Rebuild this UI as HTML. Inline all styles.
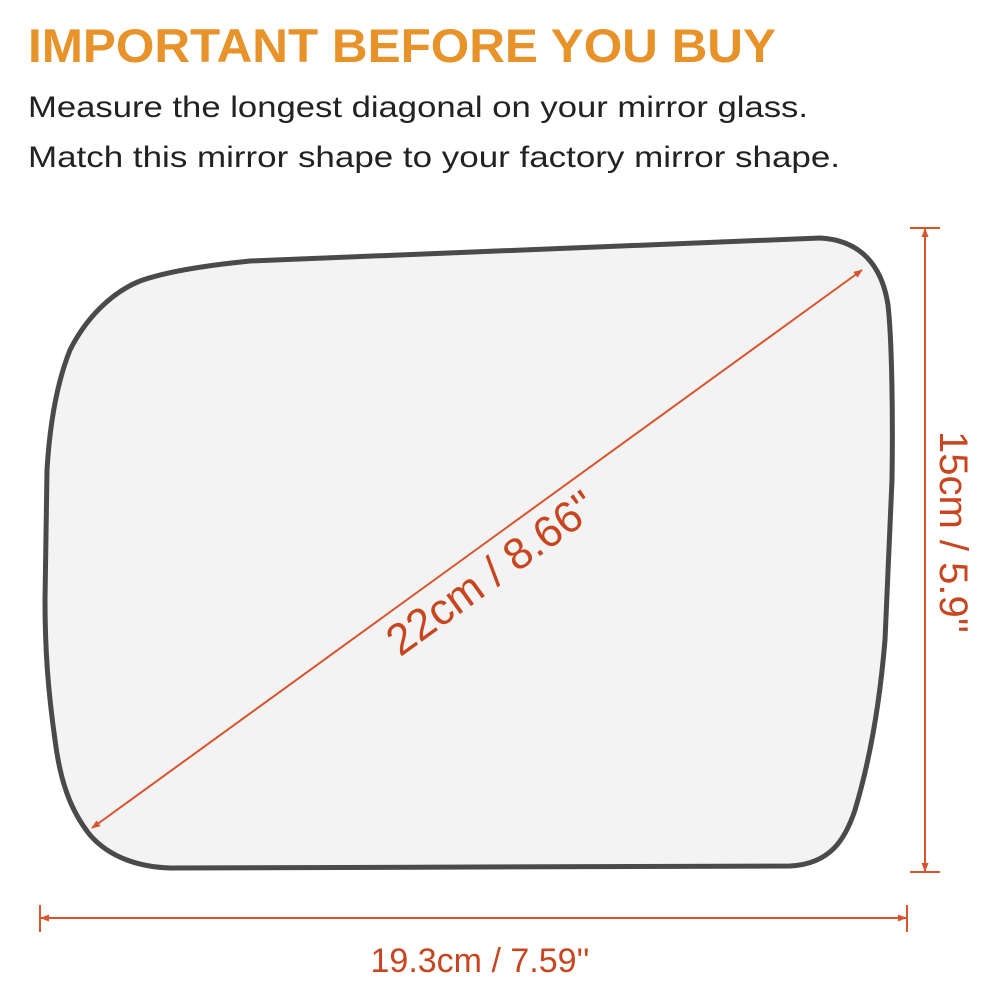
<!DOCTYPE html>
<html><head><meta charset="utf-8">
<style>
html,body{margin:0;padding:0;background:#fff;}
svg{display:block;}
</style></head>
<body>
<svg width="1000" height="1000" viewBox="0 0 1000 1000" xmlns="http://www.w3.org/2000/svg">
  <defs>
    <marker id="ah" viewBox="0 0 10 10" refX="9" refY="5" markerWidth="9" markerHeight="9" orient="auto-start-reverse" markerUnits="userSpaceOnUse">
      <path d="M0,1 L10,5 L0,9 z" fill="#d9542c"/>
    </marker>
  </defs>
  <rect width="1000" height="1000" fill="#fff"/>
  <text x="28" y="62" font-family="Liberation Sans, sans-serif" font-weight="bold" font-size="47" fill="#e8922a" textLength="748" lengthAdjust="spacingAndGlyphs">IMPORTANT BEFORE YOU BUY</text>
  <text x="28" y="117" font-family="Liberation Sans, DejaVu Sans, sans-serif" font-size="30" fill="#222" textLength="780" lengthAdjust="spacingAndGlyphs">Measure the longest diagonal on your mirror glass.</text>
  <text x="28" y="167" font-family="Liberation Sans, DejaVu Sans, sans-serif" font-size="30" fill="#222" textLength="812" lengthAdjust="spacingAndGlyphs">Match this mirror shape to your factory mirror shape.</text>

  <path
    d="M250,261 C200,266 165,272 140,281 C110,293 85,320 70,350 C58,380 50,420 47,470 L45,600 C45,650 48,690 55,740 C60,780 70,810 90,835 C110,858 140,867 170,868 L790,866 C830,864 845,840 855,810 C870,760 880,700 885,640 L892,480 C893,420 892,340 888,305 C882,265 860,240 820,238 Z"
    fill="#f3f3f3" stroke="#4a4a4a" stroke-width="5" stroke-linejoin="round"/>

  <line x1="92" y1="828" x2="862" y2="270" stroke="#d9542c" stroke-width="2" marker-start="url(#ah)" marker-end="url(#ah)"/>
  <text transform="translate(500,585) rotate(-35.9)" text-anchor="middle" font-family="Liberation Sans, sans-serif" font-size="44" fill="#c8461f">22cm / 8.66''</text>

  <line x1="910" y1="228" x2="940" y2="228" stroke="#d9542c" stroke-width="2"/>
  <line x1="910" y1="872" x2="940" y2="872" stroke="#d9542c" stroke-width="2"/>
  <line x1="925" y1="229" x2="925" y2="871" stroke="#d9542c" stroke-width="2" marker-start="url(#ah)" marker-end="url(#ah)"/>
  <text transform="translate(940,532) rotate(90)" text-anchor="middle" font-family="Liberation Sans, sans-serif" font-size="40" fill="#c8461f">15cm / 5.9''</text>

  <line x1="40" y1="905" x2="40" y2="932" stroke="#d9542c" stroke-width="2"/>
  <line x1="907" y1="905" x2="907" y2="932" stroke="#d9542c" stroke-width="2"/>
  <line x1="41" y1="918" x2="906" y2="918" stroke="#d9542c" stroke-width="2" marker-start="url(#ah)" marker-end="url(#ah)"/>
  <text x="480" y="972" text-anchor="middle" font-family="Liberation Sans, sans-serif" font-size="34" fill="#c8461f">19.3cm / 7.59''</text>
</svg>
</body></html>
